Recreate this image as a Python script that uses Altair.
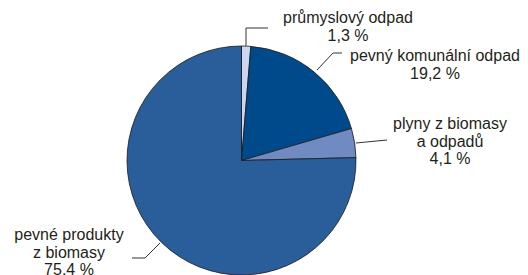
import altair as alt
import pandas as pd

# ---- data ----
categories = ["průmyslový odpad", "pevný komunální odpad",
              "plyny z biomasy a odpadů", "pevné produkty z biomasy"]
shares = [1.3, 19.2, 4.1, 75.4]
colors = ["#ccd6ee", "#004a8c", "#6f8bc2", "#2a5e9b"]
label_lines = [["průmyslový odpad"], ["pevný komunální odpad"],
               ["plyny z biomasy", "a odpadů"], ["pevné produkty", "z biomasy"]]

# ---- layout (chart pixel coords) ----
W, H = 512, 267
CX, CY, R = 233.5, 152.5, 114.5
LH = 17.5
label_anchor = [(340, 15), (427, 53), (442, 121), (61, 232)]
leaders = [
    [(238, 38), (238, 20), (260, 20)],
    [(309, 62), (325, 45), (334, 45)],
    [(348, 135), (379, 132)],
    [(152, 235), (137, 250), (124, 250)],
]
FONT = "Liberation Sans"
FS = 16
TXT = "#231f20"

pie_df = pd.DataFrame({"category": categories, "share": shares,
                       "idx": list(range(len(categories)))})

rows = []
for i, (lines, (ax, ay)) in enumerate(zip(label_lines, label_anchor)):
    all_lines = lines + [f"{shares[i]:.1f} %".replace(".", ",")]
    for j, t in enumerate(all_lines):
        rows.append({"t": t, "x": ax, "y": ay + j * LH})
text_df = pd.DataFrame(rows)

lrows = []
for i, pts in enumerate(leaders):
    for k, (px, py) in enumerate(pts):
        lrows.append({"lid": i, "k": k, "x": px, "y": py})
lead_df = pd.DataFrame(lrows)

pie = alt.Chart(pie_df).mark_arc(stroke="#1a1a1a", strokeWidth=0.8).encode(
    theta=alt.Theta("share:Q", stack=True),
    color=alt.Color("category:N", scale=alt.Scale(domain=categories, range=colors),
                    legend=None),
    order=alt.Order("idx:Q"),
    x=alt.value(CX), y=alt.value(CY), radius=alt.value(R),
)

lead = alt.Chart(lead_df).mark_line(color="#333333", strokeWidth=1).encode(
    x=alt.X("x:Q", scale=None),
    y=alt.Y("y:Q", scale=None),
    detail="lid:N",
    order="k:Q",
)

text = alt.Chart(text_df).mark_text(font=FONT, fontSize=FS, color=TXT,
                                    align="center", baseline="alphabetic").encode(
    x=alt.X("x:Q", scale=None),
    y=alt.Y("y:Q", scale=None),
    text="t:N",
)

chart = alt.layer(pie, lead, text).properties(
    width=W, height=H, padding=0,
    autosize=alt.AutoSizeParams(type="none"),
).configure_view(stroke=None)

chart.save("out.html", embed_options={"renderer": "svg", "actions": False})
